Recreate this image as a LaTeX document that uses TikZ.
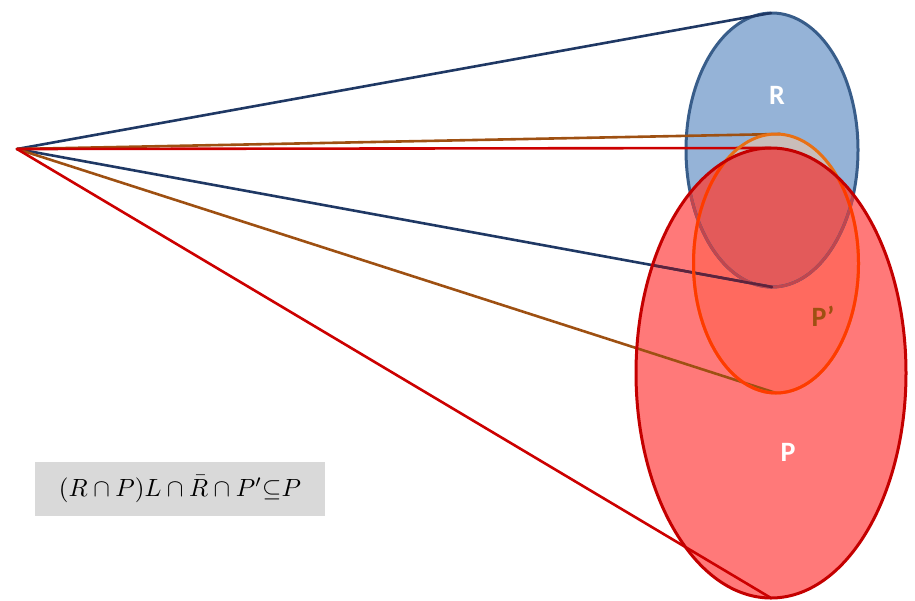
\documentclass[tikz,border=0pt]{standalone}
\usepackage{fix-cm}
\usepackage{fontspec}
\newfontfamily\labelfont{Carlito}
\definecolor{colR}{RGB}{149,179,215}
\definecolor{colRPp}{RGB}{201,189,185}
\definecolor{colP}{RGB}{255,121,121}
\definecolor{colPR}{RGB}{227,90,90}
\definecolor{colPPp}{RGB}{255,106,95}
\definecolor{borderR}{RGB}{56,93,138}
\definecolor{borderRin}{RGB}{192,70,78}
\definecolor{borderP}{RGB}{196,0,0}
\definecolor{borderPp}{RGB}{232,112,20}
\definecolor{borderPpin}{RGB}{255,58,0}
\definecolor{lineBlue}{RGB}{31,56,100}
\definecolor{lineBlueIn}{RGB}{95,35,60}
\definecolor{lineBrown}{RGB}{158,80,18}
\definecolor{lineRed}{RGB}{204,0,0}
\definecolor{boxGray}{RGB}{217,217,217}
\tikzset{
  Rshape/.style={insert path={(772,150) ellipse [x radius=86, y radius=137]}},
  Pshape/.style={insert path={(771,373) ellipse [x radius=135, y radius=225]}},
  Ppshape/.style={insert path={(776,263.5) ellipse [x radius=82.5, y radius=129.5]}},
  conn/.style={line width=2.6pt, line cap=round},
  rim/.style={line width=3pt},
  setlabel/.style={font=\labelfont\bfseries\fontsize{28}{32}\selectfont}
}
\begin{document}
\begin{tikzpicture}[x=1pt,y=-1pt]
\useasboundingbox (0,0) rectangle (915,600);
% anchor points
\coordinate (apex) at (17,149);
\coordinate (Rtop) at (771,13);
\coordinate (Rbot) at (772,287);
\coordinate (Pptop) at (780,134);
\coordinate (Ppbot) at (776,393);
\coordinate (Ptop) at (771,148);
\coordinate (Pbot) at (771,598);
% fills
\fill[colR, Rshape];
\begin{scope}
  \clip[Rshape];
  \fill[colRPp, Ppshape];
\end{scope}
\fill[colP, Pshape];
\begin{scope}
  \clip[Pshape];
  \fill[colPPp, Ppshape];
  \fill[colPR, Rshape];
\end{scope}
% R rim
\draw[rim, borderR, Rshape];
% connectors
\draw[conn, lineBlue] (apex) -- (Rtop);
\draw[conn, lineBlue] (apex) -- (Rbot);
\draw[conn, lineBrown] (apex) -- (Pptop);
\draw[conn, lineBrown] (apex) -- (Ppbot);
\draw[conn, lineRed] (apex) -- (Ptop);
\draw[conn, lineRed] (apex) -- (Pbot);
% parts seen through P
\begin{scope}
  \clip[Pshape];
  \draw[rim, borderRin, Rshape];
  \draw[conn, lineBlueIn] (apex) -- (Rbot);
\end{scope}
% P' rim
\draw[rim, borderPp, Ppshape];
\begin{scope}
  \clip[Pshape];
  \draw[rim, borderPpin, Ppshape];
\end{scope}
% P rim
\draw[rim, borderP, Pshape];
% labels
\node[setlabel, text=white] (labR) at (777,95) {R};
\node[setlabel, text=lineBrown] (labPp) at (823,316) {P’};
\node[setlabel, text=white] (labP) at (788,452) {P};
% formula
\node[fill=boxGray, minimum width=290pt, minimum height=54pt, inner sep=0pt] (formula) at (180,489)
  {\resizebox{242pt}{!}{$(R\cap P)L\cap \bar{R}\cap P'{\subseteq}P$}};
\end{tikzpicture}
\end{document}
